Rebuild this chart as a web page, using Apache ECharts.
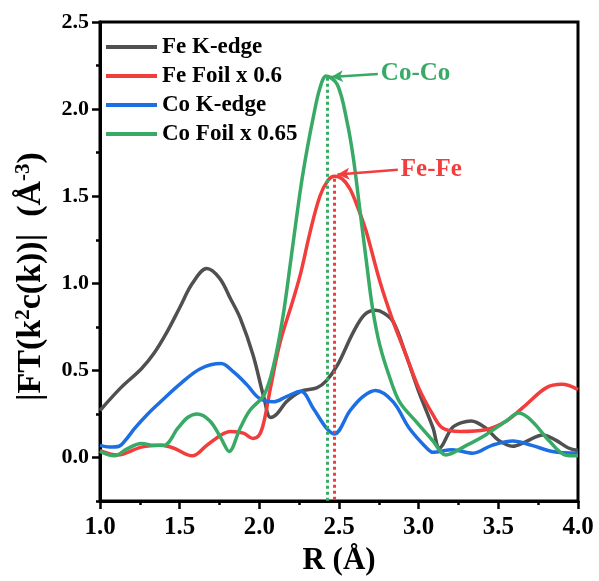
<!DOCTYPE html>
<html>
<head>
<meta charset="utf-8">
<script src="https://cdn.jsdelivr.net/npm/echarts@6/dist/echarts.min.js"></script>
<style>
  html, body { margin: 0; padding: 0; background: #fff; }
  #main { width: 599px; height: 581px; }
</style>
</head>
<body>
<div id="main"></div>
<script>
// R (Å) and |FT| values
var rFeK = [1.00, 1.13, 1.26, 1.34, 1.42, 1.50, 1.58, 1.67, 1.75, 1.82, 1.88, 1.96, 2.03, 2.07, 2.11, 2.17, 2.26, 2.36, 2.42, 2.49, 2.59, 2.66, 2.73, 2.78, 2.84, 2.92, 3.00, 3.09, 3.13, 3.21, 3.27, 3.33, 3.42, 3.50, 3.59, 3.67, 3.78, 3.86, 3.94, 4.00];
var feK  = [0.27, 0.40, 0.51, 0.60, 0.72, 0.86, 1.00, 1.085, 1.03, 0.91, 0.80, 0.59, 0.34, 0.23, 0.25, 0.32, 0.38, 0.40, 0.44, 0.53, 0.72, 0.82, 0.845, 0.83, 0.78, 0.59, 0.38, 0.17, 0.055, 0.17, 0.20, 0.21, 0.17, 0.10, 0.065, 0.09, 0.13, 0.10, 0.055, 0.04];

var rFeFoil = [1.00, 1.11, 1.26, 1.38, 1.46, 1.58, 1.67, 1.76, 1.82, 1.90, 1.96, 2.00, 2.03, 2.07, 2.13, 2.21, 2.26, 2.32, 2.38, 2.43, 2.47, 2.52, 2.57, 2.62, 2.67, 2.76, 2.84, 2.92, 3.00, 3.09, 3.15, 3.26, 3.42, 3.55, 3.67, 3.80, 3.90, 4.00];
var feFoil  = [0.04, 0.015, 0.06, 0.07, 0.055, 0.01, 0.07, 0.13, 0.15, 0.14, 0.11, 0.13, 0.21, 0.40, 0.66, 0.90, 1.06, 1.30, 1.50, 1.59, 1.615, 1.60, 1.54, 1.43, 1.30, 1.00, 0.78, 0.59, 0.40, 0.245, 0.17, 0.15, 0.16, 0.21, 0.30, 0.40, 0.42, 0.39];

var rCoK = [1.00, 1.06, 1.12, 1.16, 1.22, 1.30, 1.38, 1.50, 1.63, 1.76, 1.84, 1.92, 2.00, 2.09, 2.17, 2.26, 2.34, 2.42, 2.47, 2.57, 2.65, 2.73, 2.84, 2.94, 3.05, 3.09, 3.21, 3.34, 3.46, 3.59, 3.71, 3.84, 4.00];
var coK  = [0.07, 0.06, 0.065, 0.10, 0.17, 0.25, 0.32, 0.42, 0.51, 0.54, 0.49, 0.42, 0.34, 0.32, 0.35, 0.38, 0.28, 0.17, 0.135, 0.27, 0.35, 0.385, 0.32, 0.17, 0.055, 0.03, 0.045, 0.025, 0.07, 0.095, 0.07, 0.035, 0.025];

var rCoFoil = [1.00, 1.09, 1.17, 1.26, 1.34, 1.40, 1.49, 1.55, 1.61, 1.69, 1.76, 1.81, 1.88, 1.94, 2.03, 2.09, 2.15, 2.20, 2.26, 2.30, 2.34, 2.38, 2.42, 2.49, 2.55, 2.59, 2.63, 2.67, 2.71, 2.756, 2.82, 2.88, 2.98, 3.09, 3.17, 3.30, 3.42, 3.55, 3.63, 3.71, 3.82, 3.92, 4.00];
var coFoil  = [0.035, 0.01, 0.05, 0.08, 0.07, 0.07, 0.17, 0.23, 0.25, 0.21, 0.11, 0.035, 0.17, 0.27, 0.36, 0.53, 0.82, 1.15, 1.55, 1.77, 1.96, 2.12, 2.19, 2.14, 1.93, 1.72, 1.43, 1.14, 0.86, 0.645, 0.455, 0.32, 0.21, 0.095, 0.015, 0.07, 0.13, 0.21, 0.255, 0.21, 0.095, 0.015, 0.01];

var seriesNames = ['Fe K-edge', 'Fe Foil x 0.6', 'Co K-edge', 'Co Foil x 0.65'];
var colors = ['#505050', '#f23d3d', '#1c6fe3', '#38aa66'];
var yMajor = [0, 0.5, 1.0, 1.5, 2.0, 2.5];

// peak markers: [R, top value] of the dotted drop lines, arrow start/end
var coPeak = [2.425, 2.18];
var fePeak = [2.47, 1.60];
var coArrow = [[2.744, 2.202], [2.45, 2.185]];
var feArrow = [[2.869, 1.652], [2.49, 1.624]];

var FONT = '"Liberation Serif", "Times New Roman", serif';

function pairs(xs, ys) {
  return xs.map(function (x, i) { return [x, ys[i]]; });
}

function peakLines(color, peak, arrow, text) {
  return {
    silent: true,
    animation: false,
    symbol: ['none', 'none'],
    label: { show: false },
    data: [
      [
        { coord: [peak[0], peak[1]], lineStyle: { color: color, width: 3, type: [3, 3] } },
        { coord: [peak[0], -0.25] }
      ],
      [
        {
          coord: arrow[0],
          lineStyle: { color: color, width: 2.5, type: 'solid' },
          label: {
            show: true, position: 'start', formatter: text, distance: 3,
            color: color, fontFamily: FONT, fontWeight: 'bold', fontSize: 25
          }
        },
        { coord: arrow[1], symbol: 'arrow', symbolSize: [9, 12] }
      ]
    ]
  };
}

var chart = echarts.init(document.getElementById('main'));

var data = [pairs(rFeK, feK), pairs(rFeFoil, feFoil), pairs(rCoK, coK), pairs(rCoFoil, coFoil)];

var series = data.map(function (d, i) {
  return {
    name: seriesNames[i],
    type: 'line',
    data: d,
    smooth: 0.35,
    showSymbol: false,
    lineStyle: { color: colors[i], width: 3.5 },
    itemStyle: { color: colors[i] },
    z: 3
  };
});
series[1].markLine = peakLines(colors[1], fePeak, feArrow, 'Fe-Fe');
series[3].markLine = peakLines(colors[3], coPeak, coArrow, 'Co-Co');

chart.setOption({
  animation: false,
  backgroundColor: '#fff',
  grid: {
    left: 100, right: 21, top: 22, bottom: 78,
    show: true, borderColor: '#000', borderWidth: 3
  },
  legend: {
    data: seriesNames,
    orient: 'vertical',
    left: 101, top: 30,
    icon: 'rect',
    itemWidth: 51, itemHeight: 4,
    itemGap: 5,
    textStyle: { fontFamily: FONT, fontWeight: 'bold', fontSize: 23, color: '#000', lineHeight: 24 }
  },
  xAxis: {
    type: 'value',
    min: 1, max: 4, interval: 0.5,
    name: 'R (Å)',
    nameLocation: 'middle',
    nameGap: 43,
    nameTextStyle: { fontFamily: FONT, fontWeight: 'bold', fontSize: 31, color: '#000' },
    axisLine: { onZero: false, lineStyle: { color: '#000', width: 3 } },
    axisTick: { length: 8, lineStyle: { width: 2.5, color: '#000' } },
    minorTick: { show: true, splitNumber: 2, length: 4, lineStyle: { width: 2.5, color: '#000' } },
    splitLine: { show: false },
    axisLabel: {
      margin: 14,
      fontFamily: FONT, fontWeight: 'bold', fontSize: 25, color: '#000',
      formatter: function (v) { return v.toFixed(1); }
    }
  },
  yAxis: [
    {
      type: 'value',
      min: -0.25, max: 2.5,
      name: '|FT(k{sup|2}c(k))|  (Å{sup|-3})',
      nameLocation: 'middle',
      nameRotate: 90,
      nameGap: 50,
      nameTextStyle: {
        fontFamily: FONT, fontWeight: 'bold', fontSize: 34, color: '#000',
        padding: [0, 30, 0, 0],
        rich: {
          sup: { fontFamily: FONT, fontWeight: 'bold', fontSize: 21, color: '#000', padding: [0, 0, 16, 0] }
        }
      },
      axisLine: { lineStyle: { color: '#000', width: 3 } },
      axisTick: { length: 8, customValues: yMajor, lineStyle: { width: 2.5, color: '#000' } },
      splitLine: { show: false },
      axisLabel: {
        customValues: yMajor,
        margin: 11,
        fontFamily: FONT, fontWeight: 'bold', fontSize: 22, color: '#000',
        formatter: function (v) { return v.toFixed(1); }
      }
    },
    {
      type: 'value',
      min: -0.25, max: 2.5, interval: 0.25,
      position: 'left',
      axisLine: { show: false },
      axisTick: { show: true, length: 4, lineStyle: { width: 2.5, color: '#000' } },
      axisLabel: { show: false },
      splitLine: { show: false }
    }
  ],
  series: series
});
</script>
</body>
</html>
